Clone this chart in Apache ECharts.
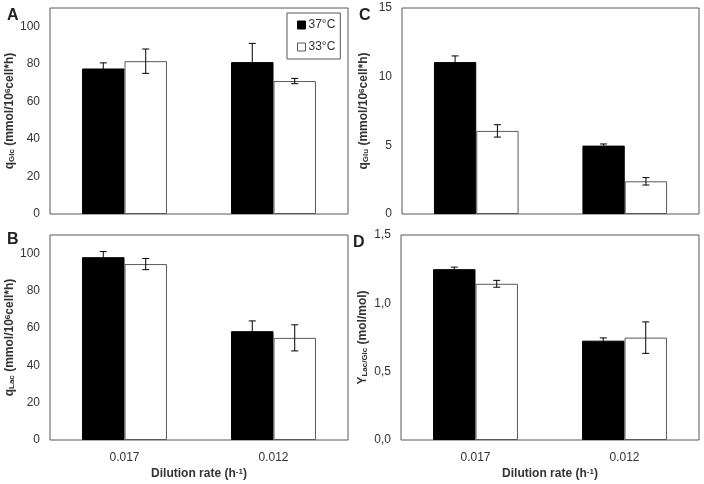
<!DOCTYPE html>
<html>
<head>
<meta charset="utf-8">
<script src="https://cdn.jsdelivr.net/npm/echarts@6/dist/echarts.min.js"></script>
<style>
  html, body { margin: 0; padding: 0; background: #fff; }
  #chart { width: 704px; height: 484px; }
</style>
</head>
<body>
<div id="chart"></div>
<script>
// categories (dilution rate)
const categories = ["0.017", "0.012"];
const seriesNames = ["37°C", "33°C"];

// A: q Glc
const glc37 = [77.7, 81.1];
const glc37Err = [3.0, 10.0];
const glc33 = [81.6, 71.0];
const glc33Err = [6.5, 1.4];

// B: q Lac
const lac37 = [98.1, 58.4];
const lac37Err = [3.0, 5.5];
const lac33 = [94.4, 54.8];
const lac33Err = [3.0, 7.0];

// C: q Glu
const glu37 = [11.06, 4.98];
const glu37Err = [0.45, 0.12];
const glu33 = [6.05, 2.38];
const glu33Err = [0.45, 0.27];

// D: Y Lac/Glc
const yld37 = [1.25, 0.727];
const yld37Err = [0.015, 0.02];
const yld33 = [1.143, 0.749];
const yld33Err = [0.025, 0.115];

const FONT = "Liberation Sans";
const TXT = "#333";
const BORDER = "#595959";
const GAP = 0.43; // barCategoryGap

const panels = [
  { grid: { left: 50, top: 8, width: 298, height: 206 }, max: 110, interval: 20,
    name: "q{sub|Glc} (mmol/10{sup|6}cell*h)", bottom: false,
    d37: glc37, e37: glc37Err, d33: glc33, e33: glc33Err },
  { grid: { left: 50, top: 235, width: 298, height: 205 }, max: 110, interval: 20,
    name: "q{sub|Lac} (mmol/10{sup|6}cell*h)", bottom: true,
    d37: lac37, e37: lac37Err, d33: lac33, e33: lac33Err },
  { grid: { left: 402, top: 8, width: 297, height: 206 }, max: 15, interval: 5,
    name: "q{sub|Glu} (mmol/10{sup|6}cell*h)", bottom: false,
    d37: glu37, e37: glu37Err, d33: glu33, e33: glu33Err },
  { grid: { left: 401, top: 235, width: 298, height: 205 }, max: 1.5, interval: 0.5,
    name: "Y{sub|Lac/Glc} (mol/mol)", bottom: true, comma: true,
    d37: yld37, e37: yld37Err, d33: yld33, e33: yld33Err },
];

const richName = {
  sub: { fontFamily: FONT, fontWeight: "bold", fontSize: 8, color: TXT, verticalAlign: "bottom", padding: [3, 0, 0, 0] },
  sup: { fontFamily: FONT, fontWeight: "bold", fontSize: 8, color: TXT, verticalAlign: "top", padding: [0, 0, 3, 0] },
};

// draws error bar centered over the bar of one series
function errorRenderer(side) {
  return function (params, api) {
    const idx = api.value(0);
    const lo = api.coord([idx, api.value(1)]);
    const hi = api.coord([idx, api.value(2)]);
    const band = api.size([1, 0])[0];
    const x = lo[0] + side * band * (1 - GAP) / 4;
    const cap = 3.5;
    const st = { stroke: "#000", lineWidth: 1 };
    return {
      type: "group",
      children: [
        { type: "line", shape: { x1: x, y1: lo[1], x2: x, y2: hi[1] }, style: st },
        { type: "line", shape: { x1: x - cap, y1: hi[1], x2: x + cap, y2: hi[1] }, style: st },
        { type: "line", shape: { x1: x - cap, y1: lo[1], x2: x + cap, y2: lo[1] }, style: st },
      ],
    };
  };
}

const grids = [], xAxes = [], yAxes = [], series = [];
panels.forEach((p, i) => {
  grids.push(Object.assign({ show: true, borderColor: BORDER, borderWidth: 1, backgroundColor: "#fff" }, p.grid));
  xAxes.push({
    type: "category", gridIndex: i, data: categories,
    axisLine: { show: false }, axisTick: { show: false },
    axisLabel: { show: p.bottom, color: TXT, fontFamily: FONT, fontSize: 12, margin: 12 },
    name: p.bottom ? "Dilution rate (h{sup|-1})" : "",
    nameLocation: "middle", nameGap: 28,
    nameTextStyle: { fontFamily: FONT, fontWeight: "bold", fontSize: 12, color: TXT, rich: richName },
  });
  yAxes.push({
    type: "value", gridIndex: i, min: 0, max: p.max, interval: p.interval,
    splitLine: { show: false }, axisTick: { show: false }, axisLine: { show: false },
    axisLabel: {
      color: TXT, fontFamily: FONT, fontSize: 12, margin: 10,
      showMaxLabel: p.max === 15 || p.max === 1.5,
      formatter: (v) => (p.comma ? v.toFixed(1).replace(".", ",") : String(v)),
    },
    name: p.name, nameLocation: "middle", nameRotate: 90, nameGap: 32,
    nameTextStyle: { fontFamily: FONT, fontWeight: "bold", fontSize: 12, color: TXT, rich: richName },
  });
  series.push({
    name: seriesNames[0], type: "bar", xAxisIndex: i, yAxisIndex: i, data: p.d37,
    barGap: "0%", barCategoryGap: "43%",
    itemStyle: { color: "#000", borderColor: "#000", borderWidth: 1 },
  });
  series.push({
    name: seriesNames[1], type: "bar", xAxisIndex: i, yAxisIndex: i, data: p.d33,
    barGap: "0%", barCategoryGap: "43%",
    itemStyle: { color: "#fff", borderColor: BORDER, borderWidth: 1 },
  });
  series.push({
    type: "custom", xAxisIndex: i, yAxisIndex: i, z: 5, renderItem: errorRenderer(-1),
    encode: { x: 0, y: [1, 2] },
    data: p.d37.map((v, k) => [k, v - p.e37[k], v + p.e37[k]]),
  });
  series.push({
    type: "custom", xAxisIndex: i, yAxisIndex: i, z: 5, renderItem: errorRenderer(1),
    encode: { x: 0, y: [1, 2] },
    data: p.d33.map((v, k) => [k, v - p.e33[k], v + p.e33[k]]),
  });
});

const letterStyle = { fontFamily: FONT, fontWeight: "bold", fontSize: 16, fill: "#222" };
const chart = echarts.init(document.getElementById("chart"), null, { renderer: "canvas" });
chart.setOption({
  animation: false,
  backgroundColor: "#fff",
  grid: grids,
  xAxis: xAxes,
  yAxis: yAxes,
  series: series,
  legend: {
    data: seriesNames, orient: "vertical", left: 287, top: 13,
    icon: "rect", itemWidth: 8, itemHeight: 8, itemGap: 10,
    itemStyle: { borderWidth: 1 },
    padding: [6, 5, 6, 10],
    borderColor: BORDER, borderWidth: 1, backgroundColor: "#fff",
    textStyle: { fontFamily: FONT, fontSize: 12, color: TXT, padding: [0, 0, 0, -2] },
  },
  graphic: [
    { type: "text", left: 7, top: 8, style: Object.assign({ text: "A" }, letterStyle) },
    { type: "text", left: 7, top: 232, style: Object.assign({ text: "B" }, letterStyle) },
    { type: "text", left: 359, top: 8, style: Object.assign({ text: "C" }, letterStyle) },
    { type: "text", left: 353, top: 235, style: Object.assign({ text: "D" }, letterStyle) },
  ],
});
</script>
</body>
</html>
